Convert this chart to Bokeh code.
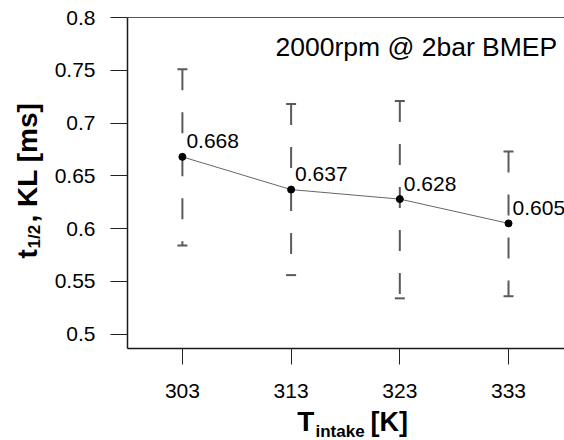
from math import pi
from bokeh.plotting import figure
from bokeh.core.properties import value
from bokeh.models import (ColumnDataSource, Range1d, FixedTicker, LinearAxis,
                          Label, LabelSet, CustomJSTickFormatter)
from bokeh.embed import file_html
from bokeh.resources import INLINE

# ---- data ----
temps = [303, 313, 323, 333]
t_half = [0.668, 0.637, 0.628, 0.605]
err_upper = [0.751, 0.718, 0.721, 0.673]
err_lower = [0.584, 0.556, 0.534, 0.536]
y_ticks = [0.5, 0.55, 0.6, 0.65, 0.7, 0.75, 0.8]
annotation = "2000rpm @ 2bar BMEP"

FONT = "Liberation Sans"
W, H = 564, 440

# plotting-box geometry (pixels) and the data limits of the box
BOX_L, BOX_R, BOX_T, BOX_B = 127, 564, 17, 348
X_LO, X_HI = 297.95, 338.15
Y_LO, Y_HI = 0.4865, 0.8
px_x = (BOX_R - BOX_L) / (X_HI - X_LO)
px_y = (BOX_B - BOX_T) / (Y_HI - Y_LO)
x_range = Range1d(X_LO - BOX_L / px_x, X_HI + (W - BOX_R) / px_x)
y_range = Range1d(Y_LO - (H - BOX_B) / px_y, Y_HI + BOX_T / px_y)

p = figure(width=W, height=H, output_backend="svg", toolbar_location=None,
           x_range=x_range, y_range=y_range,
           min_border_left=0, min_border_right=0, min_border_top=0,
           min_border_bottom=0)
p.outline_line_color = None
p.xgrid.grid_line_color = None
p.ygrid.grid_line_color = None
p.background_fill_color = "white"
p.border_fill_color = "white"

# x axis
xa = p.xaxis[0]
xa.fixed_location = Y_LO
xa.bounds = (X_LO, X_HI)
xa.ticker = FixedTicker(ticks=temps)
xa.major_tick_out = 16
xa.major_tick_in = 0
xa.minor_tick_line_color = None
xa.major_tick_line_color = "#222222"
xa.axis_line_color = "#1a1a1a"
xa.axis_line_width = 1.5
xa.major_label_text_font = FONT
xa.major_label_text_font_size = "21px"
xa.major_label_text_color = "black"
xa.major_label_standoff = 19

# y axis
ya = p.yaxis[0]
ya.fixed_location = X_LO
ya.bounds = (Y_LO, Y_HI)
ya.ticker = FixedTicker(ticks=y_ticks)
ya.formatter = CustomJSTickFormatter(code="return String(parseFloat(tick.toFixed(3)));")
ya.major_tick_out = 17
ya.major_tick_in = 0
ya.minor_tick_line_color = None
ya.major_tick_line_color = "#222222"
ya.axis_line_color = "#1a1a1a"
ya.axis_line_width = 1.5
ya.major_label_text_font = FONT
ya.major_label_text_font_size = "21px"
ya.major_label_text_color = "black"
ya.major_label_standoff = 15

# top border line of the box
top = LinearAxis(fixed_location=Y_HI, bounds=(X_LO, X_HI), ticker=FixedTicker(ticks=[]),
                 axis_line_color="#555555", axis_line_width=1,
                 major_tick_line_color=None, minor_tick_line_color=None,
                 major_label_text_font_size="0px")
p.add_layout(top, "above")

src = ColumnDataSource(dict(x=temps, y=t_half, up=err_upper, lo=err_lower,
                            lab=[f"{v:.3f}" for v in t_half]))

# error bars
p.segment(x0="x", y0="up", x1="x", y1="lo", source=src, line_color="#5a5a5a",
          line_width=2, line_dash="21 22")
p.scatter(x="x", y="up", marker="dash", size=10, source=src,
          line_color="#5a5a5a", line_width=2)
p.scatter(x="x", y="lo", marker="dash", size=10, source=src,
          line_color="#5a5a5a", line_width=2)

# mean line and points
p.line(x="x", y="y", source=src, line_color="#666666", line_width=1)
p.scatter(x="x", y="y", size=7, fill_color="black", line_color="black", source=src)

p.add_layout(LabelSet(x="x", y="y", text="lab", source=src, x_offset=4, y_offset=8.5,
                      text_font=value(FONT), text_font_size=value("21px"),
                      text_color="black", text_align="left",
                      text_baseline="alphabetic"))

def lab(txt, sx, sy, size, bold=False, angle=0.0):
    # sx, sy: wanted baseline-start position, pixels from the picture's top-left
    shift = 0.35 * size
    if angle == 0:
        sy -= shift
    else:
        sx -= shift
    p.add_layout(Label(x=sx, y=H - sy, x_units="screen", y_units="screen",
                       text=txt, text_font=FONT, text_font_size=f"{size}px",
                       text_font_style="bold" if bold else "normal",
                       text_color="black", text_align="left",
                       text_baseline="alphabetic", angle=angle))

# annotation
lab(annotation, 275, 56, 26.5)

# x axis title: T_intake [K]
lab("T", 296.7, 431, 28, bold=True)
lab("intake", 315, 437, 17, bold=True)
lab("[K]", 370, 431, 27, bold=True)

# y axis title: t_1/2, KL [ms]
lab("t", 37, 258, 28, bold=True, angle=pi / 2)
lab("1/2", 40, 248, 17, bold=True, angle=pi / 2)
lab(", KL [ms]", 37, 222, 28, bold=True, angle=pi / 2)

open("out.html", "w").write(file_html(p, INLINE))
